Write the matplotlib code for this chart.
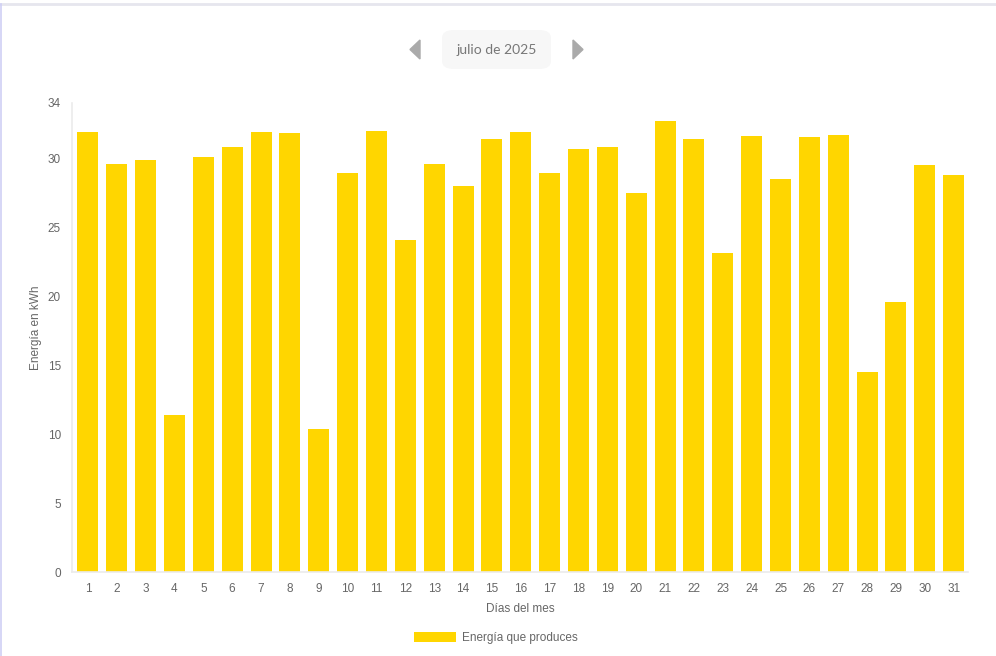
import numpy as np
import matplotlib.pyplot as plt
from matplotlib.patches import FancyBboxPatch, Polygon
from matplotlib.lines import Line2D

# daily energy for July 2025 (kWh)
days = list(range(1, 32))
energy = [31.9, 29.6, 29.9, 11.4, 30.1, 30.8, 31.9, 31.8, 10.4, 28.9,
          32.0, 24.1, 29.6, 28.0, 31.4, 31.9, 28.9, 30.7, 30.8, 27.5,
          32.7, 31.4, 23.1, 31.6, 28.5, 31.5, 31.7, 14.5, 19.6, 29.5, 28.8]
yticks = [0, 5, 10, 15, 20, 25, 30, 34]

plt.rcParams['font.family'] = ['Liberation Sans', 'DejaVu Sans']

fig = plt.figure(figsize=(9.96, 6.56), dpi=100)
ax = fig.add_axes([0.0723, 0.128, 0.8997, 0.715])

ax.bar(days, energy, width=0.73, color='#FFD600', label='Energía que produces')
ax.set_xlim(0.45, 31.5)
ax.set_ylim(0, 34)
ax.set_xticks(days)
ax.set_yticks(yticks)
ax.tick_params(length=0, colors='#666666', labelsize=8.5, pad=8)
for s in ['top', 'right']:
    ax.spines[s].set_visible(False)
for s in ['left', 'bottom']:
    ax.spines[s].set_color('#ebebeb')
    ax.spines[s].set_linewidth(1.2)

ax.set_xlabel('Días del mes', color='#666666', fontsize=8.5, labelpad=6)
fig.text(0.036, 0.5, 'Energía en kWh', rotation=90, color='#666666',
         fontsize=8.5, ha='center', va='center')

# legend centred under the axis label
fig.legend(*ax.get_legend_handles_labels(), loc='center',
           bbox_to_anchor=(496 / 996, 1 - 638 / 656), frameon=False,
           fontsize=8.5, labelcolor='#666666', handlelength=3.6, handleheight=1.0,
           handletextpad=0.5, borderpad=0, borderaxespad=0)

# month selector above the chart
box = FancyBboxPatch((442 / 996, 1 - 69 / 656), 109 / 996, 39 / 656,
                     boxstyle='round,pad=0,rounding_size=0.012',
                     transform=fig.transFigure, facecolor='#f7f7f7',
                     edgecolor='none')
fig.patches.append(box)
fig.text(497 / 996, 1 - 50 / 656, 'julio de 2025', ha='center', va='center',
         color='#777777', fontsize=10, family=['Lato', 'DejaVu Sans'])
fig.patches.append(Polygon([(420 / 996, 1 - 40 / 656), (420 / 996, 1 - 59 / 656),
                            (410 / 996, 1 - 49.5 / 656)], closed=True,
                           transform=fig.transFigure, color='#aaaaaa'))
fig.patches.append(Polygon([(573 / 996, 1 - 40 / 656), (573 / 996, 1 - 59 / 656),
                            (583 / 996, 1 - 49.5 / 656)], closed=True,
                           transform=fig.transFigure, color='#aaaaaa'))

# thin frame of the screenshot
fig.lines.append(Line2D([0, 1], [1 - 4 / 656, 1 - 4 / 656], transform=fig.transFigure,
                        color='#e6e6ee', linewidth=2))
fig.lines.append(Line2D([1 / 996, 1 / 996], [0, 1 - 4 / 656], transform=fig.transFigure,
                        color='#cfcff5', linewidth=1.2))

plt.savefig('out.png', dpi=100)
